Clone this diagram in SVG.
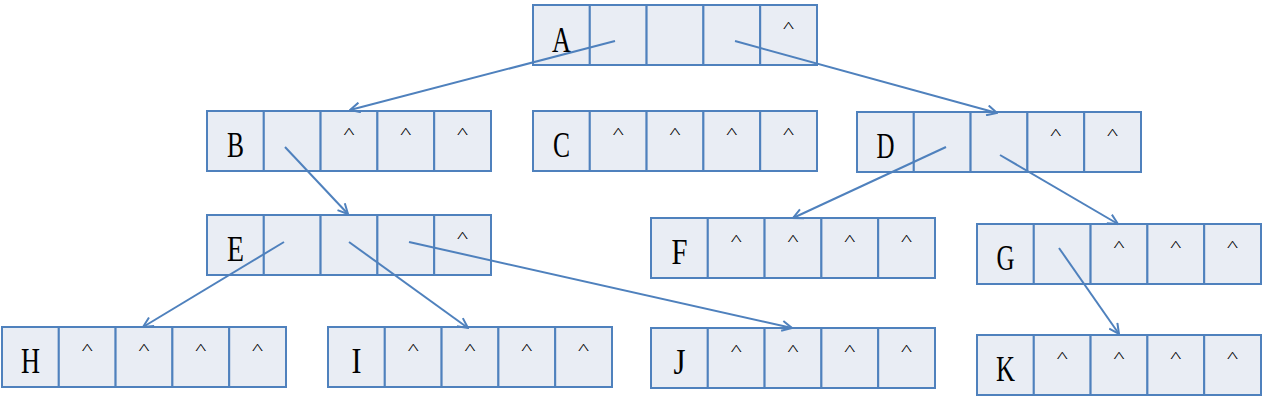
<svg xmlns="http://www.w3.org/2000/svg" width="1264" height="411" viewBox="0 0 1264 411">
<defs>
<style>
.c{fill:#E9EDF4;stroke:#4F81BD;stroke-width:2}
.lbl{font-family:"Liberation Serif",serif;font-size:36px;fill:#000;text-anchor:middle}
.ct{font-family:"Liberation Serif",serif;font-size:14px;fill:#000;text-anchor:middle}
.e{stroke:#4F81BD;stroke-width:2;fill:none;marker-end:url(#ah)}
</style>
<marker id="ah" viewBox="0 0 12 12" refX="11" refY="6" markerWidth="12" markerHeight="12" markerUnits="userSpaceOnUse" orient="auto">
<path d="M1,1 L11,6 L1,11" fill="none" stroke="#4F81BD" stroke-width="2"/>
</marker>
<g id="cells">
<rect class="c" x="0" y="0" width="56.8" height="60"/>
<rect class="c" x="56.8" y="0" width="56.8" height="60"/>
<rect class="c" x="113.6" y="0" width="56.8" height="60"/>
<rect class="c" x="170.4" y="0" width="56.8" height="60"/>
<rect class="c" x="227.2" y="0" width="56.8" height="60"/>
</g>
</defs>
<rect width="1264" height="411" fill="#fff"/>

<g id="nodeA" transform="translate(533,5)">
<use href="#cells"/>
<text class="lbl" x="28.4" y="47" textLength="19" lengthAdjust="spacingAndGlyphs">A</text>
<text class="ct" x="255.6" y="27" textLength="11" lengthAdjust="spacingAndGlyphs">^</text>
</g>
<g id="nodeB" transform="translate(207,111)">
<use href="#cells"/>
<text class="lbl" x="28.4" y="46" textLength="17" lengthAdjust="spacingAndGlyphs">B</text>
<text class="ct" x="142" y="27" textLength="11" lengthAdjust="spacingAndGlyphs">^</text>
<text class="ct" x="198.8" y="27" textLength="11" lengthAdjust="spacingAndGlyphs">^</text>
<text class="ct" x="255.6" y="27" textLength="11" lengthAdjust="spacingAndGlyphs">^</text>
</g>
<g id="nodeC" transform="translate(533,111)">
<use href="#cells"/>
<text class="lbl" x="28.4" y="46" textLength="17" lengthAdjust="spacingAndGlyphs">C</text>
<text class="ct" x="85.2" y="27" textLength="11" lengthAdjust="spacingAndGlyphs">^</text>
<text class="ct" x="142" y="27" textLength="11" lengthAdjust="spacingAndGlyphs">^</text>
<text class="ct" x="198.8" y="27" textLength="11" lengthAdjust="spacingAndGlyphs">^</text>
<text class="ct" x="255.6" y="27" textLength="11" lengthAdjust="spacingAndGlyphs">^</text>
</g>
<g id="nodeD" transform="translate(857,112)">
<use href="#cells"/>
<text class="lbl" x="28.4" y="46" textLength="18" lengthAdjust="spacingAndGlyphs">D</text>
<text class="ct" x="198.8" y="27" textLength="11" lengthAdjust="spacingAndGlyphs">^</text>
<text class="ct" x="255.6" y="27" textLength="11" lengthAdjust="spacingAndGlyphs">^</text>
</g>
<g id="nodeE" transform="translate(207,215)">
<use href="#cells"/>
<text class="lbl" x="28.4" y="46" textLength="17" lengthAdjust="spacingAndGlyphs">E</text>
<text class="ct" x="255.6" y="27" textLength="11" lengthAdjust="spacingAndGlyphs">^</text>
</g>
<g id="nodeF" transform="translate(651,218)">
<use href="#cells"/>
<text class="lbl" x="28.4" y="46" textLength="16" lengthAdjust="spacingAndGlyphs">F</text>
<text class="ct" x="85.2" y="27" textLength="11" lengthAdjust="spacingAndGlyphs">^</text>
<text class="ct" x="142" y="27" textLength="11" lengthAdjust="spacingAndGlyphs">^</text>
<text class="ct" x="198.8" y="27" textLength="11" lengthAdjust="spacingAndGlyphs">^</text>
<text class="ct" x="255.6" y="27" textLength="11" lengthAdjust="spacingAndGlyphs">^</text>
</g>
<g id="nodeG" transform="translate(977,224)">
<use href="#cells"/>
<text class="lbl" x="28.4" y="46" textLength="18" lengthAdjust="spacingAndGlyphs">G</text>
<text class="ct" x="142" y="27" textLength="11" lengthAdjust="spacingAndGlyphs">^</text>
<text class="ct" x="198.8" y="27" textLength="11" lengthAdjust="spacingAndGlyphs">^</text>
<text class="ct" x="255.6" y="27" textLength="11" lengthAdjust="spacingAndGlyphs">^</text>
</g>
<g id="nodeH" transform="translate(2,327)">
<use href="#cells"/>
<text class="lbl" x="28.4" y="46" textLength="19" lengthAdjust="spacingAndGlyphs">H</text>
<text class="ct" x="85.2" y="27" textLength="11" lengthAdjust="spacingAndGlyphs">^</text>
<text class="ct" x="142" y="27" textLength="11" lengthAdjust="spacingAndGlyphs">^</text>
<text class="ct" x="198.8" y="27" textLength="11" lengthAdjust="spacingAndGlyphs">^</text>
<text class="ct" x="255.6" y="27" textLength="11" lengthAdjust="spacingAndGlyphs">^</text>
</g>
<g id="nodeI" transform="translate(328,327)">
<use href="#cells"/>
<text class="lbl" x="28.4" y="46" textLength="10" lengthAdjust="spacingAndGlyphs">I</text>
<text class="ct" x="85.2" y="27" textLength="11" lengthAdjust="spacingAndGlyphs">^</text>
<text class="ct" x="142" y="27" textLength="11" lengthAdjust="spacingAndGlyphs">^</text>
<text class="ct" x="198.8" y="27" textLength="11" lengthAdjust="spacingAndGlyphs">^</text>
<text class="ct" x="255.6" y="27" textLength="11" lengthAdjust="spacingAndGlyphs">^</text>
</g>
<g id="nodeJ" transform="translate(651,328)">
<use href="#cells"/>
<text class="lbl" x="28.4" y="46" textLength="12" lengthAdjust="spacingAndGlyphs">J</text>
<text class="ct" x="85.2" y="27" textLength="11" lengthAdjust="spacingAndGlyphs">^</text>
<text class="ct" x="142" y="27" textLength="11" lengthAdjust="spacingAndGlyphs">^</text>
<text class="ct" x="198.8" y="27" textLength="11" lengthAdjust="spacingAndGlyphs">^</text>
<text class="ct" x="255.6" y="27" textLength="11" lengthAdjust="spacingAndGlyphs">^</text>
</g>
<g id="nodeK" transform="translate(977,335)">
<use href="#cells"/>
<text class="lbl" x="28.4" y="46" textLength="19" lengthAdjust="spacingAndGlyphs">K</text>
<text class="ct" x="85.2" y="27" textLength="11" lengthAdjust="spacingAndGlyphs">^</text>
<text class="ct" x="142" y="27" textLength="11" lengthAdjust="spacingAndGlyphs">^</text>
<text class="ct" x="198.8" y="27" textLength="11" lengthAdjust="spacingAndGlyphs">^</text>
<text class="ct" x="255.6" y="27" textLength="11" lengthAdjust="spacingAndGlyphs">^</text>
</g>

<g id="connectors">
<line class="e" x1="615" y1="41" x2="350" y2="110"/>
<line class="e" x1="735" y1="41" x2="997" y2="113"/>
<line class="e" x1="285" y1="147" x2="348" y2="214"/>
<line class="e" x1="946" y1="147" x2="793" y2="218"/>
<line class="e" x1="1000" y1="155" x2="1118" y2="224"/>
<line class="e" x1="284" y1="242" x2="143" y2="327"/>
<line class="e" x1="349" y1="242" x2="468" y2="328"/>
<line class="e" x1="409" y1="242" x2="792" y2="328"/>
<line class="e" x1="1059" y1="248" x2="1119" y2="334"/>
</g>
</svg>
